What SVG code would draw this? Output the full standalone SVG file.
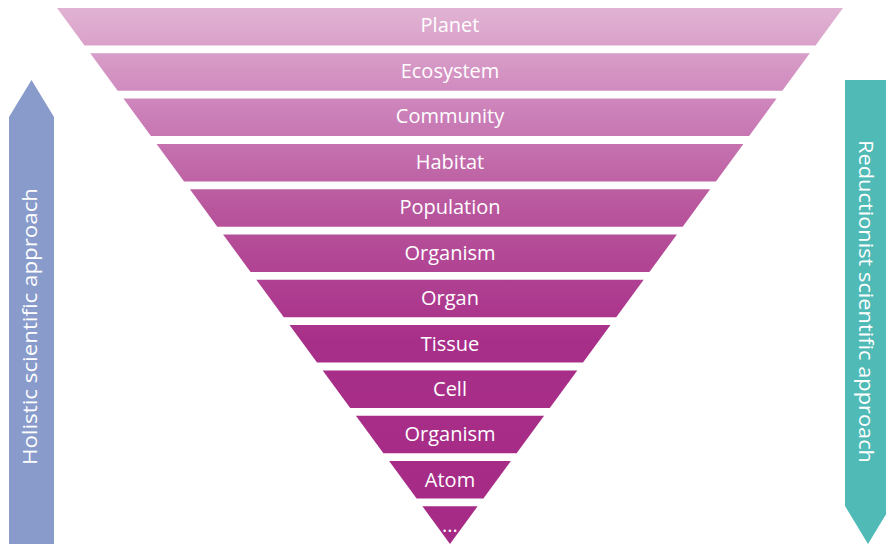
<svg xmlns="http://www.w3.org/2000/svg" width="886" height="548" viewBox="0 0 886 548">
<defs>
<linearGradient id="g" gradientUnits="userSpaceOnUse" x1="0" y1="8" x2="0" y2="544">
<stop offset="0" stop-color="#e1b3d3"/>
<stop offset="0.2" stop-color="#cb7fb8"/>
<stop offset="0.38" stop-color="#b8559c"/>
<stop offset="0.62" stop-color="#a82f89"/>
<stop offset="1" stop-color="#a52a85"/>
</linearGradient>
<style>
.band{fill:url(#g);}
.lbl{font-family:"Open Sans","Liberation Sans",sans-serif;font-size:20px;fill:#ffffff;text-anchor:middle;}
.alb{font-family:"Open Sans","Liberation Sans",sans-serif;font-size:20px;fill:#ffffff;text-anchor:middle;}
</style>
</defs>
<rect width="886" height="548" fill="#ffffff"/>
<g id="arrow-holistic">
<polygon points="9,544 9,117 31.5,80 54,117 54,544" fill="#889bcb"/>
<text class="alb" transform="translate(37.3,326.5) rotate(-90)" textLength="277" lengthAdjust="spacingAndGlyphs">Holistic scientific approach</text>
</g>
<g id="arrow-reductionist">
<polygon points="845,80 891,80 891,506 868,544 845,506" fill="#4fbab6"/>
<text class="alb" transform="translate(859.3,301.5) rotate(90)" textLength="323" lengthAdjust="spacingAndGlyphs">Reductionist scientific approach</text>
</g>
<g id="band-planet"><polygon class="band" points="57,8 843,8 815.5,45.5 84.5,45.5"/><text class="lbl" x="450" y="32">Planet</text></g>
<g id="band-ecosystem"><polygon class="band" points="90.2,53.3 809.8,53.3 782.3,90.8 117.7,90.8"/><text class="lbl" x="450" y="78">Ecosystem</text></g>
<g id="band-community"><polygon class="band" points="123.4,98.6 776.6,98.6 749.1,136.1 150.9,136.1"/><text class="lbl" x="450" y="123">Community</text></g>
<g id="band-habitat"><polygon class="band" points="156.6,143.9 743.4,143.9 715.9,181.4 184.1,181.4"/><text class="lbl" x="450" y="168.5">Habitat</text></g>
<g id="band-population"><polygon class="band" points="189.9,189.2 710.1,189.2 682.7,226.7 217.3,226.7"/><text class="lbl" x="450" y="214">Population</text></g>
<g id="band-organism"><polygon class="band" points="223.1,234.5 676.9,234.5 649.4,272 250.6,272"/><text class="lbl" x="450" y="259.5">Organism</text></g>
<g id="band-organ"><polygon class="band" points="256.3,279.8 643.7,279.8 616.2,317.3 283.8,317.3"/><text class="lbl" x="450" y="305">Organ</text></g>
<g id="band-tissue"><polygon class="band" points="289.5,325.1 610.5,325.1 583,362.6 317,362.6"/><text class="lbl" x="450" y="350.5">Tissue</text></g>
<g id="band-cell"><polygon class="band" points="322.7,370.4 577.3,370.4 549.8,407.9 350.2,407.9"/><text class="lbl" x="450" y="395.7">Cell</text></g>
<g id="band-organism-2"><polygon class="band" points="355.9,415.7 544.1,415.7 516.6,453.2 383.4,453.2"/><text class="lbl" x="450" y="441">Organism</text></g>
<g id="band-atom"><polygon class="band" points="389.1,461 510.9,461 483.4,498.5 416.6,498.5"/><text class="lbl" x="450" y="486.5">Atom</text></g>
<g id="band-more"><polygon class="band" points="422.4,506.3 477.6,506.3 450,544"/><text class="lbl" x="450" y="532">...</text></g>
<g id="connectors"></g>
</svg>
